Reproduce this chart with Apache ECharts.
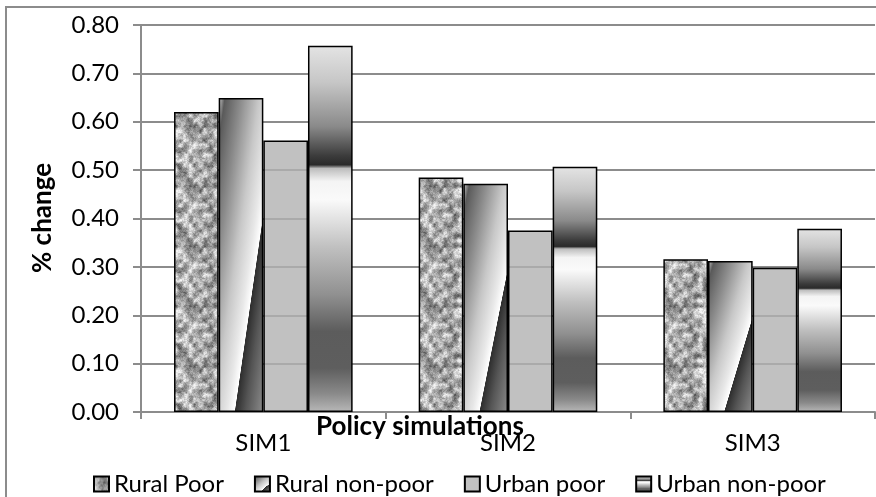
<!DOCTYPE html>
<html>
<head>
<meta charset="utf-8">
<title>Policy simulations</title>
<script src="https://cdn.jsdelivr.net/npm/echarts@6/dist/echarts.min.js"></script>
<style>
    html,body{margin:0;padding:0;background:#fff;}
    #main{width:876px;height:497px;}
</style>
</head>
<body>
<div id="main"></div>
<script>
// chart data
var categories = ['SIM1', 'SIM2', 'SIM3'];
var seriesNames = ['Rural Poor', 'Rural non-poor', 'Urban poor', 'Urban non-poor'];
var ruralPoor = [0.62, 0.485, 0.316];
var ruralNonPoor = [0.649, 0.472, 0.312];
var urbanPoor = [0.561, 0.375, 0.298];
var urbanNonPoor = [0.757, 0.507, 0.379];
var yTicks = [0, 0.1, 0.2, 0.3, 0.4, 0.5, 0.6, 0.7, 0.8];

var font = 'Lato, "Open Sans", sans-serif';

// granite-like texture for Rural Poor
function makeGranite() {
    var size = 60, cell = 5;
    var c = document.createElement('canvas');
    c.width = size; c.height = size;
    var ctx = c.getContext('2d');
    var img = ctx.createImageData(size, size);
    var n = size / cell;
    function h(i, j, k) {
        var s = Math.sin(i * 127.1 + j * 311.7 + k * 74.7) * 43758.5453;
        return s - Math.floor(s);
    }
    function smooth(x, y, k, sc) {
        var m = size / sc;
        var gx = x / sc, gy = y / sc;
        var x0 = Math.floor(gx), y0 = Math.floor(gy);
        var fx = gx - x0, fy = gy - y0;
        fx = fx * fx * (3 - 2 * fx); fy = fy * fy * (3 - 2 * fy);
        var x1 = (x0 + 1) % m, y1 = (y0 + 1) % m;
        var a = h(x0, y0, k), b = h(x1, y0, k), d = h(x0, y1, k), e = h(x1, y1, k);
        return a * (1 - fx) * (1 - fy) + b * fx * (1 - fy) + d * (1 - fx) * fy + e * fx * fy;
    }
    for (var y = 0; y < size; y++) {
        for (var x = 0; x < size; x++) {
            var v = 0.6 * smooth(x, y, 1, cell) + 0.25 * smooth(x, y, 2, 2) + 0.15 * h(x, y, 3);
            v = Math.min(1, Math.max(0, (v - 0.5) * 1.5 + 0.55));
            var g = Math.round(80 + v * 165);
            var p = (y * size + x) * 4;
            img.data[p] = g; img.data[p + 1] = g; img.data[p + 2] = g; img.data[p + 3] = 255;
        }
    }
    ctx.putImageData(img, 0, 0);
    return c;
}

var granite = { image: makeGranite(), repeat: 'repeat' };

var diagStops = [
    { offset: 0, color: '#d2d2d2' },
    { offset: 0.07, color: '#5a5a5a' },
    { offset: 0.25, color: '#8c8c8c' },
    { offset: 0.45, color: '#c8c8c8' },
    { offset: 0.6, color: '#e8e8e8' },
    { offset: 0.68, color: '#ffffff' },
    { offset: 0.686, color: '#2e2e2e' },
    { offset: 0.8, color: '#555555' },
    { offset: 1, color: '#8c8c8c' }
];

// diagonal gradient whose bands run corner to corner whatever the bar shape
function diagFill(w, h) {
    var r = w / h;
    var x2 = 2.016 / (1 + 1.032 * r * r);
    var y2 = 1.016 * r * r * x2;
    return { type: 'linear', x: 0, y: 0, x2: x2, y2: y2, colorStops: diagStops };
}

var bandFill = {
    type: 'linear', x: 0, y: 0, x2: 0, y2: 1,
    colorStops: [
        { offset: 0, color: '#e4e4e4' },
        { offset: 0.1, color: '#c6c6c6' },
        { offset: 0.22, color: '#8a8a8a' },
        { offset: 0.3, color: '#3c3c3c' },
        { offset: 0.325, color: '#2a2a2a' },
        { offset: 0.335, color: '#bdbdbd' },
        { offset: 0.37, color: '#f4f4f4' },
        { offset: 0.42, color: '#fafafa' },
        { offset: 0.55, color: '#c0c0c0' },
        { offset: 0.68, color: '#909090' },
        { offset: 0.78, color: '#5c5c5c' },
        { offset: 0.88, color: '#5e5e5e' },
        { offset: 0.95, color: '#8a8a8a' },
        { offset: 1, color: '#b8b8b8' }
    ]
};

var fills = [granite, diagFill(16, 15), 'rgba(178,178,178,0.8)', bandFill];
var values = [ruralPoor, ruralNonPoor, urbanPoor, urbanNonPoor];

var myChart = echarts.init(document.getElementById('main'));

var series = [];
for (var i = 0; i < seriesNames.length; i++) {
    series.push({
        name: seriesNames[i],
        type: 'bar',
        data: values[i],
        barGap: '0%',
        barCategoryGap: '27%',
        itemStyle: { color: fills[i], borderColor: '#000', borderWidth: 1.5 }
    });
}

var option = {
    animation: false,
    textStyle: { fontFamily: font },
    grid: { left: 141, right: 1, top: 25, bottom: 85, containLabel: false },
    legend: {
        data: seriesNames,
        icon: 'rect',
        left: 88,
        top: 467,
        itemWidth: 15,
        itemHeight: 15,
        itemGap: 30,
        textStyle: { fontFamily: font, fontSize: 24, color: '#000' }
    },
    xAxis: {
        type: 'category',
        data: categories,
        axisLine: { lineStyle: { color: '#8c8c8c', width: 2 } },
        axisTick: { show: true, length: 7, lineStyle: { color: '#8c8c8c', width: 2 } },
        axisLabel: { fontFamily: font, fontSize: 24, color: '#000', margin: 19 }
    },
    yAxis: {
        type: 'value',
        min: yTicks[0],
        max: yTicks[yTicks.length - 1],
        interval: 0.1,
        axisLine: { show: true, lineStyle: { color: '#8c8c8c', width: 2 } },
        axisTick: { show: true, length: 8, lineStyle: { color: '#8c8c8c', width: 2 } },
        axisLabel: {
            fontFamily: font, fontSize: 24, color: '#000', margin: 22,
            formatter: function (v) { return v.toFixed(2); }
        },
        splitLine: { lineStyle: { color: '#8c8c8c', width: 2 } }
    },
    graphic: [
        {
            type: 'rect', z: -1, silent: true,
            shape: { x: 6, y: 7, width: 900, height: 520 },
            style: { fill: 'none', stroke: '#8c8c8c', lineWidth: 2 }
        },
        {
            type: 'text', z: 10, x: 43, y: 218, rotation: Math.PI / 2,
            style: { text: '% change', fontFamily: font, fontSize: 26, fontWeight: 'bold', fill: '#000', align: 'center', verticalAlign: 'middle' }
        },
        {
            type: 'text', z: 10, x: 420, y: 427,
            style: { text: 'Policy simulations', fontFamily: font, fontSize: 26, fontWeight: 'bold', fill: '#000', align: 'center', verticalAlign: 'middle' }
        }
    ],
    series: series
};

myChart.setOption(option);

// give each Rural non-poor bar its own gradient, using the bar size from the layout
var barData = myChart.getModel().getSeriesByIndex(1).getData();
var items = [];
for (var j = 0; j < ruralNonPoor.length; j++) {
    var lay = barData.getItemLayout(j);
    items.push({
        value: ruralNonPoor[j],
        itemStyle: { color: diagFill(Math.abs(lay.width), Math.abs(lay.height)) }
    });
}
myChart.setOption({ series: [{}, { data: items }] });
</script>
</body>
</html>
